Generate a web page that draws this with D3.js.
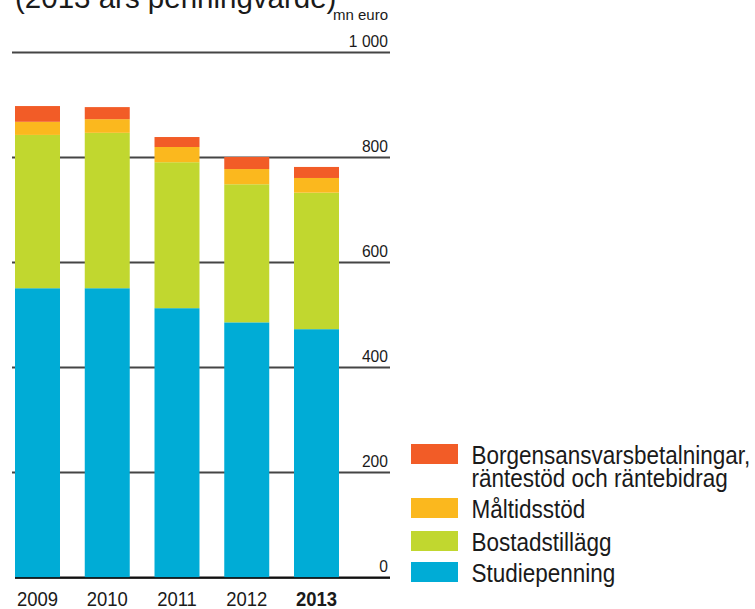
<!DOCTYPE html>
<html>
<head>
<meta charset="utf-8">
<script src="https://cdn.jsdelivr.net/npm/d3@7"></script>
<style>
  body { margin: 0; background: #fff; }
  svg { display: block; }
  text { font-family: "Liberation Sans", Arial, sans-serif; fill: #1a1a1a; }
</style>
</head>
<body>
<div id="chart"></div>
<script>
var width = 755,
  height = 609;

// data (mn euro, 2013 års penningvärde)
var years = ['2009', '2010', '2011', '2012', '2013'];
var studiepenning = [551, 551, 513, 486, 473];
var bostadstillagg = [292, 296, 278, 263, 260];
var maltidsstod = [25, 26, 29, 29, 28];
var borgen = [30, 23, 19, 23, 21];
var seriesNames = ['Studiepenning', 'Bostadstillägg', 'Måltidsstöd', 'Borgensansvarsbetalningar,\nräntestöd och räntebidrag'];
var seriesColors = ['#00acd6', '#c1d72f', '#fbb81e', '#f25c27'];
var ticks = [0, 200, 400, 600, 800, 1000];
var tickLabels = ['0', '200', '400', '600', '800', '1 000'];

var svg = d3.select('#chart').append('svg')
  .attr('width', width)
  .attr('height', height);

var y = d3.scaleLinear()
  .domain([0, 1000])
  .range([577.5, 52.5]);

var x = d3.scaleBand()
  .domain(years)
  .range([15, 339])
  .paddingInner(0.355)
  .paddingOuter(0);

// narrow text: the original uses a condensed face
function condensed(sel, tx, ty, sx) {
  return sel.attr('transform', 'translate(' + tx + ',' + ty + ') scale(' + sx + ',1)');
}

// title line, mostly cut off at the top
svg.append('text')
  .attr('x', 15)
  .attr('y', 8)
  .attr('font-size', 29.5)
  .text('(2013 års penningvärde)');

svg.append('text')
  .attr('x', 388)
  .attr('y', 20)
  .attr('text-anchor', 'end')
  .attr('font-size', 15)
  .text('mn euro');

// gridlines + labels
var grid = svg.append('g').attr('class', 'grid');
grid.selectAll('line')
  .data(ticks)
  .enter().append('line')
  .attr('x1', function(d) { return d === 0 ? 15 : 12; })
  .attr('x2', 390)
  .attr('y1', function(d) { return y(d); })
  .attr('y2', function(d) { return y(d); })
  .attr('stroke', function(d) { return d === 0 ? '#111' : '#454545'; })
  .attr('stroke-width', 1.8);

grid.selectAll('text')
  .data(ticks)
  .enter().append('text')
  .each(function(d) {
    condensed(d3.select(this), 388, y(d) - 6, 0.92);
  })
  .attr('text-anchor', 'end')
  .attr('font-size', 17)
  .attr('fill', '#2a2a2a')
  .text(function(d, i) { return tickLabels[i]; });

// stacked bars
var rows = years.map(function(yr, i) {
  return { year: yr, s0: studiepenning[i], s1: bostadstillagg[i], s2: maltidsstod[i], s3: borgen[i] };
});
var stack = d3.stack().keys(['s0', 's1', 's2', 's3']);
var layers = stack(rows);

svg.append('g').attr('class', 'bars')
  .selectAll('g')
  .data(layers)
  .enter().append('g')
  .attr('fill', function(d, i) { return seriesColors[i]; })
  .selectAll('rect')
  .data(function(d) { return d; })
  .enter().append('rect')
  .attr('x', function(d) { return x(d.data.year); })
  .attr('width', x.bandwidth())
  .attr('y', function(d) { return y(d[1]); })
  .attr('height', function(d) { return y(d[0]) - y(d[1]); });

// zero line over the bars
svg.append('line')
  .attr('x1', 15).attr('x2', 390)
  .attr('y1', y(0) + 0.5).attr('y2', y(0) + 0.5)
  .attr('stroke', '#111')
  .attr('stroke-width', 1.6);

// year labels
svg.append('g').selectAll('text')
  .data(years)
  .enter().append('text')
  .each(function(d) {
    condensed(d3.select(this), x(d) + x.bandwidth() / 2, 606, 0.88);
  })
  .attr('text-anchor', 'middle')
  .attr('font-size', 21)
  .attr('font-weight', function(d) { return d === '2013' ? 'bold' : 'normal'; })
  .text(function(d) { return d; });

// legend (top to bottom: reversed series order)
var legendOrder = [3, 2, 1, 0];
var legendY = [444, 498, 531, 562];
var legend = svg.append('g').attr('class', 'legend');
legendOrder.forEach(function(si, k) {
  var g = legend.append('g').attr('transform', 'translate(411,' + legendY[k] + ')');
  g.append('rect')
    .attr('width', 47)
    .attr('height', 20)
    .attr('fill', seriesColors[si]);
  var t = condensed(g.append('text'), 60.5, 19.5, 0.9)
    .attr('font-size', 25);
  seriesNames[si].split('\n').forEach(function(line, j) {
    t.append('tspan')
      .attr('x', 0)
      .attr('dy', j === 0 ? 0 : 23)
      .text(line);
  });
});
</script>
</body>
</html>
